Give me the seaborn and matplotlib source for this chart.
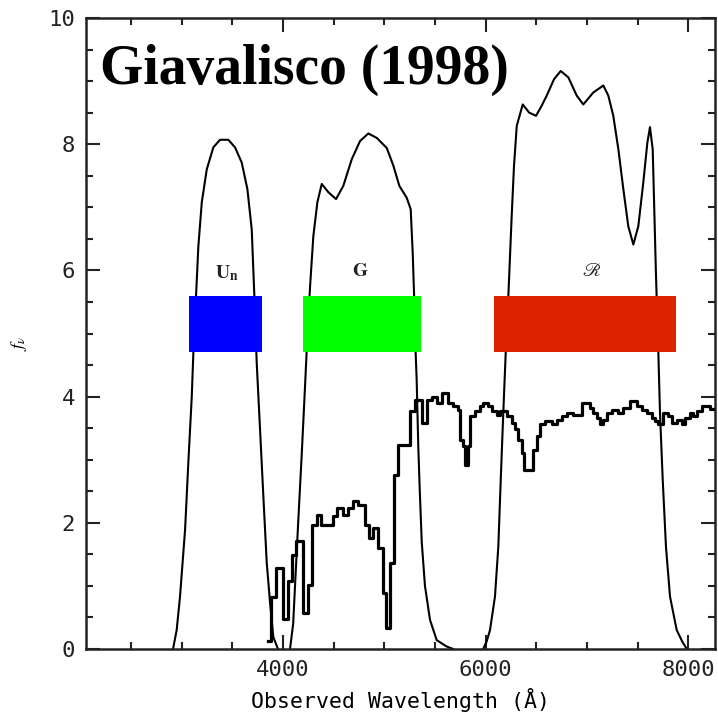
import numpy as np
import pandas as pd
import matplotlib
matplotlib.use("Agg")
import matplotlib.pyplot as plt
from matplotlib.ticker import MultipleLocator
import seaborn as sns

# ---------------- data ----------------
un_wave = [2914, 2950, 2983, 3033, 3065, 3099, 3115, 3141, 3164, 3198, 3247, 3312, 3378,
           3460, 3526, 3592, 3648, 3691, 3717, 3740, 3773, 3806, 3839, 3872, 3904, 3950]
un_flux = [0.0, 0.3, 0.83, 1.89, 2.95, 4.0, 4.7, 5.59, 6.38, 7.08, 7.6, 7.95, 8.07,
           8.07, 7.95, 7.71, 7.29, 6.65, 5.59, 4.54, 3.48, 2.41, 1.37, 0.73, 0.19, 0.0]

g_wave = [4069, 4100, 4118, 4151, 4185, 4217, 4240, 4267, 4299, 4339, 4382, 4447, 4523,
          4595, 4678, 4760, 4842, 4925, 5024, 5089, 5148, 5221, 5260, 5280, 5296, 5309,
          5319, 5335, 5350, 5369, 5401, 5451, 5517, 5615, 5680]
g_flux = [0.0, 0.4, 0.99, 2.05, 3.1, 4.16, 4.95, 5.75, 6.54, 7.08, 7.37, 7.24, 7.13,
          7.34, 7.76, 8.05, 8.17, 8.1, 7.94, 7.66, 7.34, 7.15, 6.97, 6.28, 5.49, 4.7,
          4.27, 3.21, 2.5, 1.7, 1.0, 0.46, 0.14, 0.04, 0.0]

r_wave = [5975, 6010, 6043, 6092, 6125, 6149, 6174, 6198, 6224, 6257, 6280, 6307, 6366,
          6430, 6497, 6550, 6603, 6675, 6741, 6816, 6899, 6964, 7063, 7162, 7211, 7260,
          7310, 7359, 7408, 7458, 7507, 7556, 7596, 7622, 7649, 7662, 7679, 7688, 7705,
          7721, 7748, 7780, 7820, 7886, 7940, 7985]
r_flux = [0.0, 0.12, 0.3, 0.83, 1.62, 2.68, 3.74, 4.69, 5.59, 6.86, 7.66, 8.29, 8.63,
          8.5, 8.45, 8.6, 8.77, 9.03, 9.16, 9.06, 8.77, 8.63, 8.82, 8.93, 8.77, 8.45,
          7.92, 7.29, 6.7, 6.41, 6.7, 7.39, 8.02, 8.27, 7.92, 7.13, 6.07, 5.58, 4.69,
          3.74, 2.68, 1.62, 0.83, 0.3, 0.12, 0.0]

spec_wave = [3850, 3878, 3931, 4003, 4046, 4086, 4128, 4200, 4250, 4289, 4333, 4372, 4497,
             4536, 4595, 4645, 4694, 4743, 4809, 4849, 4891, 4941, 4984, 5017, 5056, 5096,
             5138, 5254, 5303, 5369, 5418, 5468, 5517, 5566, 5632, 5681, 5731, 5747, 5780,
             5797, 5829, 5846, 5895, 5945, 5978, 6027, 6060, 6109, 6142, 6208, 6257, 6290,
             6323, 6356, 6379, 6471, 6504, 6537, 6586, 6652, 6701, 6751, 6800, 6866, 6948,
             7030, 7063, 7096, 7129, 7162, 7195, 7244, 7310, 7359, 7425, 7491, 7540, 7590,
             7639, 7672, 7705, 7754, 7803, 7836, 7886, 7935, 7968, 8017, 8050, 8083, 8133,
             8215, 8280]
spec_flux = [0.12, 0.83, 1.28, 0.47, 1.07, 1.49, 1.71, 0.57, 1.02, 1.97, 2.13, 1.97, 2.1,
             2.24, 2.13, 2.23, 2.34, 2.29, 1.97, 1.76, 1.92, 1.6, 0.88, 0.33, 1.36, 2.76,
             3.24, 3.77, 3.95, 3.58, 3.95, 4.0, 3.9, 4.05, 3.9, 3.85, 3.79, 3.32, 3.21,
             2.92, 3.21, 3.69, 3.77, 3.85, 3.9, 3.85, 3.77, 3.71, 3.77, 3.69, 3.58, 3.48,
             3.32, 3.11, 2.84, 3.16, 3.37, 3.56, 3.61, 3.56, 3.63, 3.69, 3.74, 3.71, 3.9,
             3.82, 3.74, 3.66, 3.56, 3.63, 3.74, 3.79, 3.74, 3.82, 3.93, 3.85, 3.79, 3.74,
             3.66, 3.61, 3.56, 3.74, 3.69, 3.58, 3.63, 3.56, 3.66, 3.74, 3.69, 3.77, 3.85,
             3.8, 3.8]

band_names = ["Un", "G", "R"]
band_left = [3072, 4197, 6083]
band_right = [3793, 5362, 7879]
band_low = 4.70
band_high = 5.59
band_colors = ["#0000ff", "#00ff00", "#dd2200"]

label_text = [r"$\mathbf{U_n}$", r"$\mathbf{G}$", r"$\mathscr{R}$"]
label_x = [3444, 4760, 7047]
label_y = [5.96, 6.0, 6.0]

x_major = [4000, 6000, 8000]
y_major = [0, 2, 4, 6, 8, 10]

title = "Giavalisco (1998)"

# ---------------- figure ----------------
plt.rcParams["mathtext.fontset"] = "stix"
mono = "DejaVu Sans Mono"

fig = plt.figure(figsize=(7.18, 7.17), dpi=100)
W, H = 718, 717
ax = fig.add_axes([86 / W, (H - 649) / H, (715 - 86) / W, (649 - 18) / H])

for wv, fl in [(un_wave, un_flux), (g_wave, g_flux), (r_wave, r_flux)]:
    df = pd.DataFrame({"wave": wv, "flux": fl})
    sns.lineplot(data=df, x="wave", y="flux", ax=ax, color="black", lw=1.5,
                 sort=False, estimator=None, zorder=2)

sdf = pd.DataFrame({"wave": spec_wave, "flux": spec_flux})
sns.lineplot(data=sdf, x="wave", y="flux", ax=ax, color="black", lw=2.3,
             drawstyle="steps-post", sort=False, estimator=None, zorder=3)

for l, r, c in zip(band_left, band_right, band_colors):
    ax.bar(l, band_high - band_low, width=r - l, bottom=band_low, align="edge",
           color=c, edgecolor="none", zorder=5)

for t, x, y in zip(label_text, label_x, label_y):
    ax.text(x, y, t, ha="center", va="center", fontsize=14, color="#222222", zorder=6)

ax.text(2194, 8.95, title, fontsize=40, fontweight="bold", family="Liberation Serif",
        ha="left", va="baseline", zorder=7)

ax.set_xlim(2055, 8264)
ax.set_ylim(0, 10)
ax.set_xticks(x_major)
ax.set_yticks(y_major)
ax.xaxis.set_minor_locator(MultipleLocator(500))
ax.yaxis.set_minor_locator(MultipleLocator(0.5))
ax.tick_params(which="both", direction="in", top=True, right=True, width=1.5,
               colors="#222222")
ax.tick_params(which="major", length=10, labelsize=16, pad=8)
ax.tick_params(which="minor", length=5)
for lab in ax.get_xticklabels() + ax.get_yticklabels():
    lab.set_family(mono)
for s in ax.spines.values():
    s.set_linewidth(1.8)
    s.set_color("#222222")

ax.set_xlabel("Observed Wavelength (Å)", family=mono, fontsize=15.5, labelpad=6)
ax.set_ylabel(r"$f_\nu$", fontsize=13)
ax.yaxis.set_label_coords(-0.09, 0.485)

fig.savefig("out.png", dpi=100)
